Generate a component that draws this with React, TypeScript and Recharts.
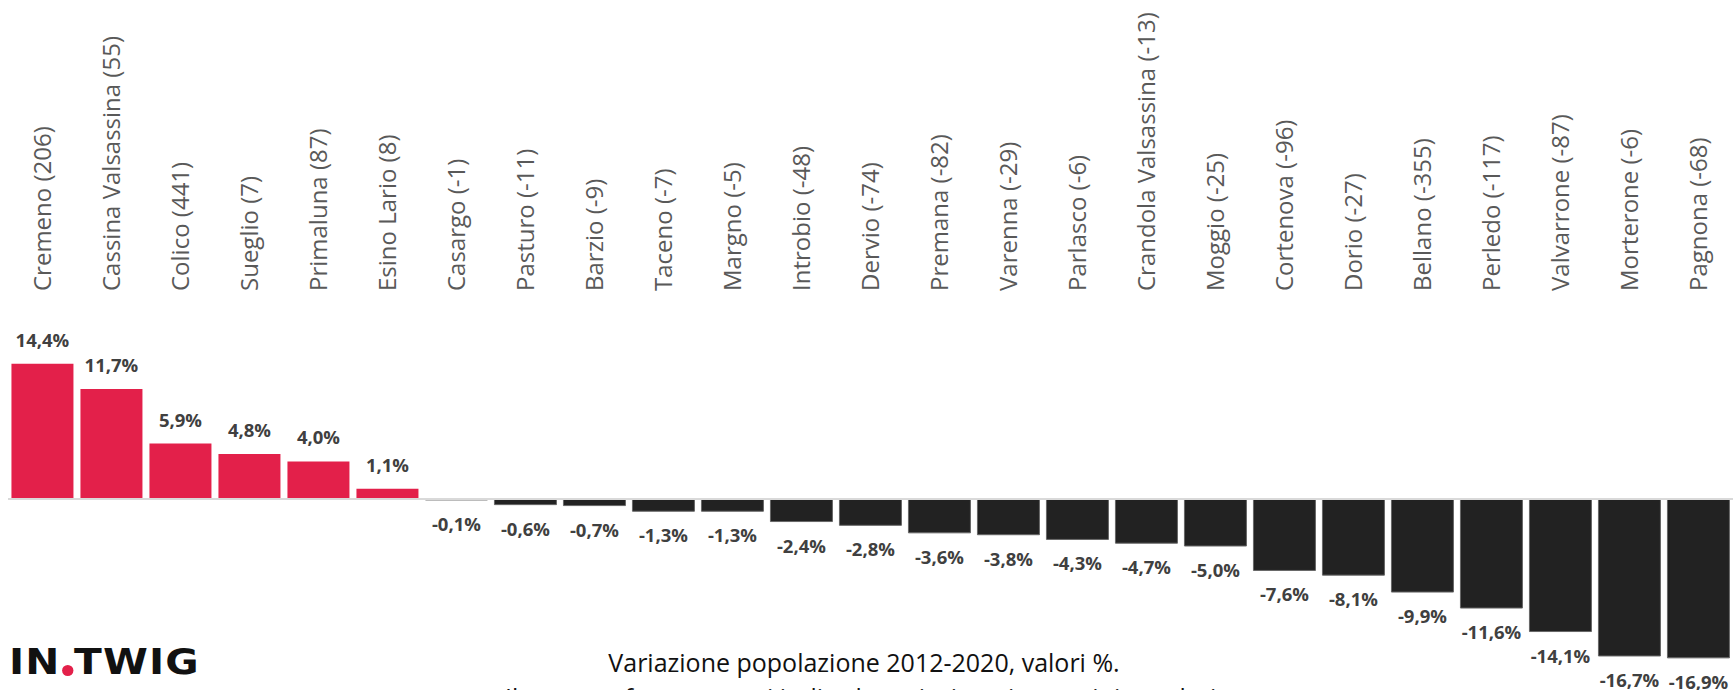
import React from 'react';
import { BarChart, Bar, XAxis, YAxis, ReferenceLine, Cell, LabelList } from 'recharts';

// comuni ordinati per variazione % 2012-2020
const comuni = [
  'Cremeno', 'Cassina Valsassina', 'Colico', 'Sueglio', 'Primaluna', 'Esino Lario',
  'Casargo', 'Pasturo', 'Barzio', 'Taceno', 'Margno', 'Introbio', 'Dervio', 'Premana',
  'Varenna', 'Parlasco', 'Crandola Valsassina', 'Moggio', 'Cortenova', 'Dorio',
  'Bellano', 'Perledo', 'Valvarrone', 'Morterone', 'Pagnona',
];
// variazione assoluta (abitanti)
const assoluti = [
  206, 55, 441, 7, 87, 8, -1, -11, -9, -7, -5, -48, -74, -82, -29, -6, -13, -25, -96, -27,
  -355, -117, -87, -6, -68,
];
// variazione percentuale
const percentuali = [
  14.4, 11.7, 5.9, 4.8, 4.0, 1.1, -0.1, -0.6, -0.7, -1.3, -1.3, -2.4, -2.8, -3.6, -3.8,
  -4.3, -4.7, -5.0, -7.6, -8.1, -9.9, -11.6, -14.1, -16.7, -16.9,
];

const data = comuni.map((c, i) => ({
  name: `${c} (${assoluti[i]})`,
  value: percentuali[i],
}));

const RED = '#e3204a';
const DARK = '#222222';
const FONT = "'Open Sans', 'Noto Sans', sans-serif";

const fmt = (v: number) => `${v.toFixed(1).replace('.', ',')}%`;

const CategoryTick = (props: any) => {
  const { x, y, payload } = props;
  return (
    <text
      x={x}
      y={y}
      transform={`rotate(-90, ${x}, ${y})`}
      textAnchor="start"
      dy="0.36em"
      fontSize={24}
      fill="#595959"
      fontFamily={FONT}
    >
      {payload.value}
    </text>
  );
};

const ValueLabel = (props: any) => {
  const { x, y, width, height, value } = props;
  const top = Math.min(y, y + height);
  const bottom = Math.max(y, y + height);
  const ty = value >= 0 ? top - 17 : bottom + 31;
  return (
    <text
      x={x + width / 2}
      y={ty}
      textAnchor="middle"
      fontSize={18.5}
      fontWeight={700}
      fill="#404040"
      fontFamily={FONT}
    >
      {fmt(value)}
    </text>
  );
};

const App: React.FC = () => {
  return (
    <div style={{ position: 'absolute', left: 0, top: 0, width: 1735, height: 690, background: '#fff', overflow: 'hidden' }}>
      <BarChart
        width={1735}
        height={690}
        data={data}
        margin={{ top: 281, right: 2, left: 8, bottom: 3 }}
        barCategoryGap="5%"
      >
        <XAxis
          dataKey="name"
          orientation="top"
          height={30}
          axisLine={false}
          tickLine={false}
          tickMargin={14}
          interval={0}
          tick={<CategoryTick />}
        />
        <YAxis hide domain={[-20, 20]} />
        <ReferenceLine y={0} stroke="#d9d9d9" strokeWidth={2} />
        <Bar dataKey="value" isAnimationActive={false}>
          {data.map((d, i) => (
            <Cell
              key={i}
              fill={d.value >= 0 ? RED : DARK}
              stroke={d.value >= 0 ? 'none' : '#666666'}
              strokeWidth={1}
            />
          ))}
          <LabelList dataKey="value" content={<ValueLabel />} />
        </Bar>
      </BarChart>

      {/* logo */}
      <div style={{ position: 'absolute', left: 9, top: 640, fontFamily: "'DejaVu Sans', sans-serif", fontWeight: 700, fontSize: 36, lineHeight: '44px', color: '#111', letterSpacing: 1, whiteSpace: 'nowrap', transform: 'scaleX(1.13)', transformOrigin: 'left top' }}>
        IN<span style={{ display: 'inline-block', width: 10, height: 11, borderRadius: '50%', background: RED, margin: '0 1px -2px 1px' }} />TWIG
      </div>

      {/* didascalia */}
      <div style={{ position: 'absolute', left: 0, width: 1728, top: 645, textAlign: 'center', fontFamily: FONT, fontSize: 25, lineHeight: '35px', color: '#111', whiteSpace: 'nowrap' }}>
        Variazione popolazione 2012-2020, valori %.
        <br />
        Il numero fra parentesi indica la variazione in termini assoluti.
      </div>
    </div>
  );
};

export default App;
